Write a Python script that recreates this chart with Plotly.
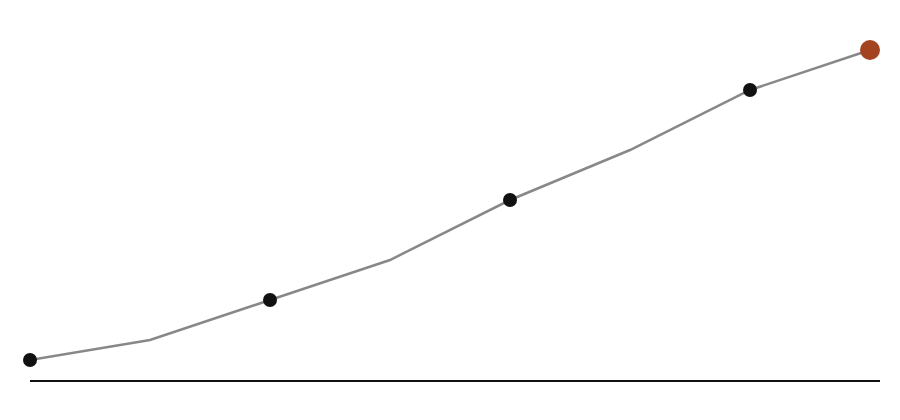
import plotly.graph_objects as go

steps = [0, 1, 2, 3, 4, 5, 6, 7]
values = [20, 40, 80, 120, 180, 230, 290, 330]

# every other point gets a dot, the last one is highlighted
dot_x = [0, 2, 4, 6]
dot_y = [20, 80, 180, 290]
last_x = [7]
last_y = [330]

fig = go.Figure()
fig.add_trace(go.Scatter(x=steps, y=values, mode="lines",
                         line=dict(color="#888888", width=2.5)))
fig.add_trace(go.Scatter(x=dot_x, y=dot_y, mode="markers", cliponaxis=False,
                         marker=dict(color="#111111", size=14)))
fig.add_trace(go.Scatter(x=last_x, y=last_y, mode="markers", cliponaxis=False,
                         marker=dict(color="#A3431F", size=20)))

# page body adds 8px, so margins are trimmed to compensate
fig.update_layout(width=900, height=420,
                  margin=dict(l=22, r=28, t=0, b=48),
                  plot_bgcolor="white", paper_bgcolor="white",
                  showlegend=False)
fig.update_xaxes(range=[0, 850 / 120], showgrid=False, zeroline=False,
                 showticklabels=False, showline=True, linecolor="#111111",
                 linewidth=2)
fig.update_yaxes(range=[0, 372], showgrid=False, zeroline=False,
                 showticklabels=False, showline=False)

fig.write_html("out.html")
